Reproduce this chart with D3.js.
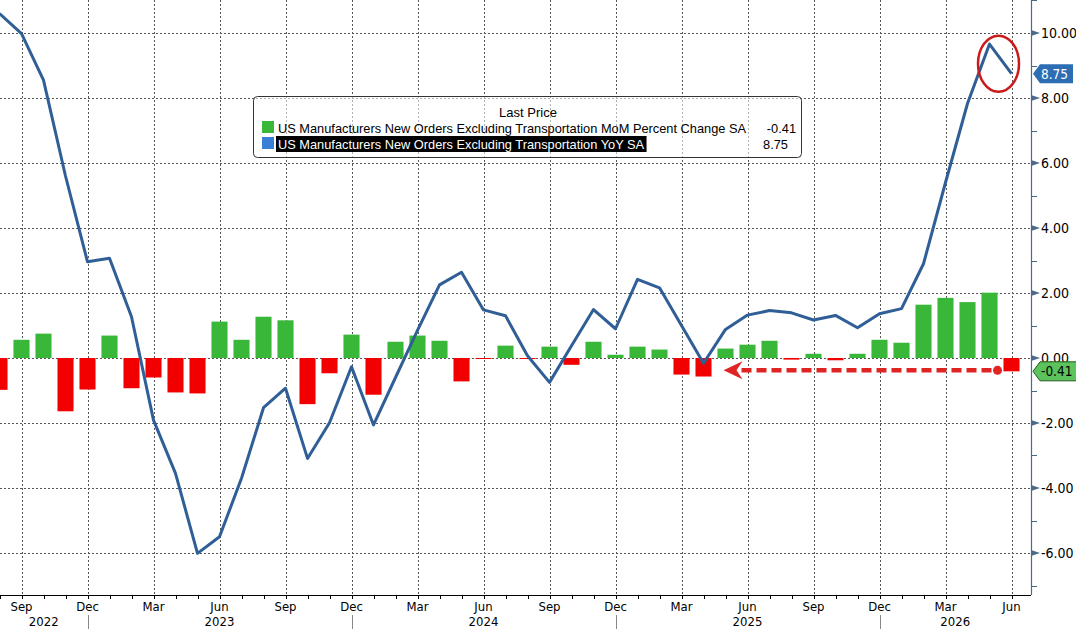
<!DOCTYPE html>
<html>
<head>
<meta charset="utf-8">
<script src="https://cdn.jsdelivr.net/npm/d3@7"></script>
<style>
  body { margin: 0; background: #fff; }
  .axis text, .lbl { font-family: "Liberation Sans Narrow", "Arial Narrow", "DejaVu Sans Condensed", "Liberation Sans", sans-serif; }
  .legend text { font-family: "Liberation Sans", Arial, sans-serif; }
</style>
</head>
<body>
<svg id="chart" width="1076" height="629"></svg>
<script>
// monthly observations, Aug 2022 .. Jun 2026
var months = [
  "2022-08","2022-09","2022-10","2022-11","2022-12",
  "2023-01","2023-02","2023-03","2023-04","2023-05","2023-06","2023-07","2023-08","2023-09","2023-10","2023-11","2023-12",
  "2024-01","2024-02","2024-03","2024-04","2024-05","2024-06","2024-07","2024-08","2024-09","2024-10","2024-11","2024-12",
  "2025-01","2025-02","2025-03","2025-04","2025-05","2025-06","2025-07","2025-08","2025-09","2025-10","2025-11","2025-12",
  "2026-01","2026-02","2026-03","2026-04","2026-05","2026-06"
];

// MoM percent change (bars)
var momValues = [
  -0.98, 0.56, 0.75, -1.64, -0.97,
  0.69, -0.93, -0.60, -1.06, -1.09, 1.12, 0.56, 1.27, 1.16, -1.42, -0.47, 0.72,
  -1.13, 0.50, 0.69, 0.53, -0.72, -0.02, 0.38, -0.02, 0.35, -0.21, 0.50, 0.10,
  0.35, 0.26, -0.51, -0.57, 0.29, 0.41, 0.53, -0.05, 0.13, -0.07, 0.13, 0.56,
  0.47, 1.64, 1.85, 1.72, 2.01, -0.41
];

// YoY (line)
var yoyValues = [
  10.6, 9.98, 8.55, 5.6, 2.96,
  3.07, 1.27, -1.91, -3.55, -6.01, -5.50, -3.70, -1.53, -0.93, -3.09, -1.99, -0.27,
  -2.06, -0.6, 0.85, 2.25, 2.64, 1.48, 1.30, 0.07, -0.75, 0.38, 1.49, 0.90,
  2.42, 2.16, 1.0, -0.16, 0.88, 1.32, 1.46, 1.39, 1.17, 1.31, 0.93, 1.36,
  1.52, 2.90, 5.4, 7.83, 9.66, 8.75
];

var yTicks = [-6, -4, -2, 0, 2, 4, 6, 8, 10];
var yMinorTicks = [-7, -5, -3, -1, 1, 3, 5, 7, 9, 11];
var quarterMonths = ["Mar", "Jun", "Sep", "Dec"];
var yearLabels = ["2022", "2023", "2024", "2025", "2026"];

var momName = "US Manufacturers New Orders Excluding Transportation MoM Percent Change SA";
var yoyName = "US Manufacturers New Orders Excluding Transportation YoY SA";

var svg = d3.select("#chart"),
    plotRight = 1031,
    plotBottom = 595;

var parse = d3.timeParse("%Y-%m");
var fmtMon = d3.timeFormat("%b");
var fmt2 = d3.formatLocale({decimal: ".", thousands: ",", grouping: [3], currency: ["$", ""], minus: "-"}).format(".2f");

// one band per month, 22px step
var x = d3.scaleBand()
    .domain(months)
    .range([-11.5, -11.5 + 22 * months.length])
    .paddingInner(0.27)
    .paddingOuter(0.135);
function cx(m) { return x(m) + x.bandwidth() / 2; }

var y = d3.scaleLinear()
    .domain([-(plotBottom - 358) / 32.5, 358 / 32.5])
    .range([plotBottom, 0]);

svg.append("defs").append("clipPath").attr("id", "clip")
  .append("rect").attr("x", 0).attr("y", 0).attr("width", plotRight).attr("height", plotBottom);

// grid
var grid = svg.append("g").attr("class", "grid");
grid.selectAll("line.h")
  .data(yTicks)
  .enter().append("line")
    .attr("x1", 0).attr("x2", plotRight)
    .attr("y1", function(d) { return Math.round(y(d)) + 0.5; })
    .attr("y2", function(d) { return Math.round(y(d)) + 0.5; })
    .attr("stroke", "#555").attr("stroke-dasharray", "2,2");

var quarterTicks = months.filter(function(m) { return quarterMonths.indexOf(fmtMon(parse(m))) >= 0; });
grid.selectAll("line.v")
  .data(quarterTicks)
  .enter().append("line")
    .attr("x1", function(d) { return Math.round(cx(d)) + 0.5; })
    .attr("x2", function(d) { return Math.round(cx(d)) + 0.5; })
    .attr("y1", 0).attr("y2", plotBottom)
    .attr("stroke", "#555").attr("stroke-dasharray", "2,2");

var plot = svg.append("g").attr("clip-path", "url(#clip)");

// bars
plot.selectAll("rect.bar")
  .data(months)
  .enter().append("rect")
    .attr("x", function(d) { return x(d); })
    .attr("width", x.bandwidth())
    .attr("y", function(d, i) { return y(Math.max(0, momValues[i])); })
    .attr("height", function(d, i) { return Math.max(1, Math.abs(y(momValues[i]) - y(0))); })
    .attr("fill", function(d, i) { return momValues[i] >= 0 ? "#38b738" : "#f20000"; });

// line
var line = d3.line()
    .x(function(d) { return cx(d); })
    .y(function(d, i) { return y(yoyValues[i]); });
plot.append("path")
  .datum(months)
  .attr("d", line)
  .attr("fill", "none")
  .attr("stroke", "#2f5f96")
  .attr("stroke-width", 3)
  .attr("stroke-linejoin", "round");

// bottom axis
var axisB = svg.append("g").attr("class", "axis");
axisB.append("line")
  .attr("x1", 0).attr("x2", plotRight)
  .attr("y1", plotBottom + 0.5).attr("y2", plotBottom + 0.5)
  .attr("stroke", "#000");
axisB.selectAll("line.mt")
  .data(months)
  .enter().append("line")
    .attr("x1", function(d) { return Math.round(cx(d)) + 0.5; })
    .attr("x2", function(d) { return Math.round(cx(d)) + 0.5; })
    .attr("y1", plotBottom).attr("y2", plotBottom + 4)
    .attr("stroke", "#000");
axisB.selectAll("text.mon")
  .data(quarterTicks)
  .enter().append("text")
    .attr("x", function(d) { return cx(d); })
    .attr("y", 611)
    .attr("text-anchor", "middle")
    .attr("font-size", 13)
    .text(function(d) { return fmtMon(parse(d)); });

// year separators at December, labels centred in each year's span
var decs = months.filter(function(m) { return fmtMon(parse(m)) === "Dec"; });
axisB.selectAll("line.ysep")
  .data(decs)
  .enter().append("line")
    .attr("x1", function(d) { return Math.round(cx(d)) + 0.5; })
    .attr("x2", function(d) { return Math.round(cx(d)) + 0.5; })
    .attr("y1", 615).attr("y2", 629)
    .attr("stroke", "#888");
var bounds = [0].concat(decs.map(cx)).concat([plotRight]);
axisB.selectAll("text.yr")
  .data(yearLabels)
  .enter().append("text")
    .attr("x", function(d, i) { return (bounds[i] + bounds[i + 1]) / 2; })
    .attr("y", 626)
    .attr("text-anchor", "middle")
    .attr("font-size", 13)
    .text(function(d) { return d; });

// right axis
var axisR = svg.append("g").attr("class", "axis");
axisR.append("line")
  .attr("x1", plotRight + 0.5).attr("x2", plotRight + 0.5)
  .attr("y1", 0).attr("y2", plotBottom)
  .attr("stroke", "#4b6a8a").attr("stroke-width", 1.2);
axisR.selectAll("line.minor")
  .data(yMinorTicks)
  .enter().append("line")
    .attr("x1", plotRight).attr("x2", plotRight + 6)
    .attr("y1", function(d) { return Math.round(y(d)) + 0.5; })
    .attr("y2", function(d) { return Math.round(y(d)) + 0.5; })
    .attr("stroke", "#4b6a8a");
axisR.selectAll("path.tri")
  .data(yTicks)
  .enter().append("path")
    .attr("d", function(d) { var yy = y(d); return "M" + plotRight + "," + (yy - 3) + "L" + (plotRight + 9) + "," + yy + "L" + plotRight + "," + (yy + 3) + "Z"; })
    .attr("fill", "#4b6a8a");
axisR.selectAll("text.yl")
  .data(yTicks)
  .enter().append("text")
    .attr("x", plotRight + 10)
    .attr("y", function(d) { return y(d) + 5; })
    .attr("font-size", 14)
    .attr("fill", "#000")
    .text(function(d) { return fmt2(d); });

// last-value tags
var lastM = months[months.length - 1];
var lastMom = momValues[momValues.length - 1],
    lastYoy = yoyValues[yoyValues.length - 1];
function tag(v, w, fill, stroke, txtColor) {
  var yy = y(v), g = svg.append("g");
  g.append("path")
    .attr("d", "M" + (plotRight + 2) + "," + yy + "L" + (plotRight + 9) + "," + (yy - 9.5) +
               "L" + (plotRight + 2 + w) + "," + (yy - 9.5) + "L" + (plotRight + 2 + w) + "," + (yy + 9.5) +
               "L" + (plotRight + 9) + "," + (yy + 9.5) + "Z")
    .attr("fill", fill).attr("stroke", stroke);
  g.append("text").attr("class", "lbl")
    .attr("x", plotRight + 10).attr("y", yy + 5)
    .attr("font-size", 13.5).attr("fill", txtColor)
    .text(fmt2(v));
}
tag(lastYoy, 40, "#2d6db4", "none", "#fff");
tag(lastMom, 44, "#5cc25c", "#1e5e1e", "#000");

// annotations: circle on the YoY peak, dashed arrow back along the last MoM value
var ann = svg.append("g");
ann.append("ellipse")
  .attr("cx", cx(lastM) - 13).attr("cy", y(lastYoy) - 10)
  .attr("rx", 20.5).attr("ry", 28)
  .attr("fill", "none").attr("stroke", "#cc1a1a").attr("stroke-width", 2.5);
var arrY = y(lastMom) - 1,
    arrEnd = cx(lastM) - 14,
    arrTip = cx(months[33]) - 2;
ann.append("line")
  .attr("x1", arrTip + 18).attr("x2", arrEnd)
  .attr("y1", arrY).attr("y2", arrY)
  .attr("stroke", "#e02424").attr("stroke-width", 4.5)
  .attr("stroke-dasharray", "10,5");
ann.append("circle")
  .attr("cx", arrEnd).attr("cy", arrY).attr("r", 4.5)
  .attr("fill", "#e02424");
ann.append("path")
  .attr("d", "M" + arrTip + "," + arrY + "L" + (arrTip + 19) + "," + (arrY - 9) +
             "L" + (arrTip + 13) + "," + arrY + "L" + (arrTip + 19) + "," + (arrY + 9) + "Z")
  .attr("fill", "#e02424");

// legend
var lg = svg.append("g").attr("class", "legend");
lg.append("rect")
  .attr("x", 253.5).attr("y", 96.5).attr("width", 548).attr("height", 61).attr("rx", 4)
  .attr("fill", "#fff").attr("fill-opacity", 0.55)
  .attr("stroke", "#333");
lg.append("text")
  .attr("x", 528).attr("y", 117)
  .attr("text-anchor", "middle").attr("font-size", 13)
  .text("Last Price");
lg.append("rect").attr("x", 262).attr("y", 121).attr("width", 12).attr("height", 12).attr("fill", "#38b738");
lg.append("text").attr("x", 278).attr("y", 133).attr("font-size", 12.8).text(momName);
lg.append("text").attr("x", 796).attr("y", 133).attr("text-anchor", "end").attr("font-size", 12.8)
  .text(fmt2(lastMom));
lg.append("rect").attr("x", 262).attr("y", 137).attr("width", 12).attr("height", 12).attr("fill", "#3a7fd5");
var t2 = lg.append("text").attr("x", 278).attr("y", 149).attr("font-size", 12.8).attr("fill", "#fff").text(yoyName);
var bb = t2.node().getBBox();
lg.insert("rect", function() { return t2.node(); })
  .attr("x", 276).attr("y", 136).attr("width", bb.width + 4).attr("height", 16).attr("fill", "#000");
lg.append("text").attr("x", 788).attr("y", 149).attr("text-anchor", "end").attr("font-size", 12.8)
  .text(fmt2(lastYoy));
</script>
</body>
</html>
